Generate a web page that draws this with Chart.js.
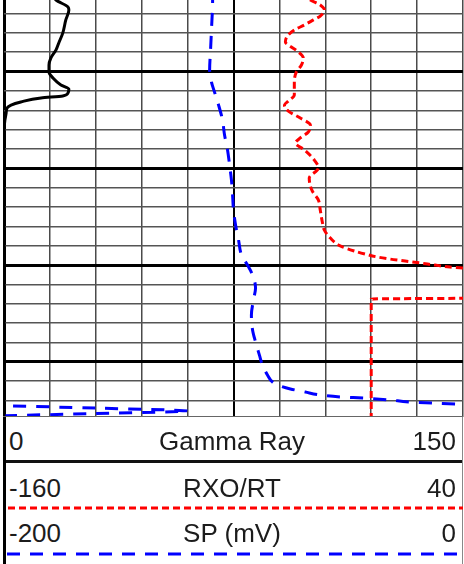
<!DOCTYPE html>
<html>
<head>
<meta charset="utf-8">
<title>Log tracks</title>
<script src="https://cdn.jsdelivr.net/npm/chart.js@4.4.1/dist/chart.umd.min.js"></script>
<style>
  html, body { margin: 0; padding: 0; background: #fff; }
  body { width: 464px; height: 564px; position: relative; overflow: hidden;
         font-family: "Liberation Sans", Arial, sans-serif; }
  #plot { position: absolute; left: 0; top: 0; width: 464px; height: 417px; }
  .bar { position: absolute; }
  #leftBar { left: 3px; top: 417px; width: 3px; height: 147px; background: #000; }
  #rightBar { left: 462px; top: 417px; width: 1px; height: 147px; background: #888; }
  #topLine { left: 3px; top: 416px; width: 460px; height: 1px; background: #666; }
  #grBottom { left: 3px; top: 460px; width: 460px; height: 3px; background: #111; }
  .lab { position: absolute; font-size: 26px; line-height: 26px; color: #1c1c1c; white-space: nowrap; }
  .lab.min { left: 9px; }
  .lab.name { left: 0; width: 464px; text-align: center; }
  .lab.max { right: 8px; text-align: right; }
  .row0 { top: 428px; }
  .row1 { top: 475px; }
  .row2 { top: 520px; }
  #keys { position: absolute; left: 0; top: 0; }
</style>
</head>
<body>
<div id="plot"><canvas id="logChart"></canvas></div>
<div id="topLine" class="bar"></div>
<div id="grBottom" class="bar"></div>
<div id="leftBar" class="bar"></div>
<div id="rightBar" class="bar"></div>
<div id="labels"></div>
<svg id="keys" width="464" height="564">
  <line x1="8" y1="508" x2="463" y2="508" stroke="#ff0000" stroke-width="3" stroke-dasharray="7 4"/>
  <line x1="7" y1="554" x2="461" y2="554" stroke="#0000ff" stroke-width="3" stroke-dasharray="13 10"/>
</svg>
<script>
// track headers
const trackNames = ['Gamma Ray', 'RXO/RT', 'SP (mV)'];
const trackMin = [0, -160, -200];
const trackMax = [150, 40, 0];

// depth window (ft) and grid lines
const depthTop = 4996.3;
const depthBottom = 5017.85;
const depthTicks = [4997, 4998, 4999, 5000, 5001, 5002, 5003, 5004, 5005, 5006, 5007,
  5008, 5009, 5010, 5011, 5012, 5013, 5014, 5015, 5016, 5017];

// Gamma Ray
const grDepth = [4995.8, 4996.3, 4996.66, 4996.82, 4997.33, 4998.01, 4998.52, 4998.88, 4999.3,
  4999.66, 5000.02, 5000.33, 5000.69, 5000.9, 5001.11, 5001.26, 5001.36, 5001.57, 5001.73,
  5001.88, 5002.14, 5002.5, 5003.02, 5018.0];
const grValue = [15, 17, 20.9, 21.2, 20.2, 19.2, 17.9, 17.0, 15.3, 14.7, 14.7, 16.0, 18.6, 21.2,
  20.9, 19.2, 12.1, 5.5, 2.3, 1.0, 0.7, 0.3, 0, 0];

// RXO/RT
const rxoDepth = [4995.89, 4996.30, 4996.56, 4996.82, 4997.13, 4997.33, 4997.59, 4997.85, 4998.16,
  4998.47, 4998.73, 4998.94, 4999.30, 4999.66, 5000.02, 5000.54, 5001.21, 5001.52, 5001.73,
  5002.04, 5002.40, 5002.76, 5003.12, 5003.43, 5003.69, 5004.05, 5004.57, 5004.98, 5005.50,
  5006.17, 5006.64, 5007.15, 5007.77, 5008.19, 5008.60, 5009.01, 5009.27, 5009.43, 5009.58,
  5009.69, 5009.79, 5009.89, 5010.00, 5010.10, 5010.15, 5010.36, 5011.03, 5011.70, 5011.75, 5018.0];
const rxoValue = [-30, -26.5, -22.2, -20.4, -22.2, -25.2, -29.1, -33.5, -36.5, -37.4, -34.8, -32.2,
  -29.6, -30.4, -32.6, -33.5, -33.5, -36.1, -37.8, -36.1, -30.9, -26.5, -27.4, -30.9, -33.0,
  -29.1, -24.8, -23.0, -27.0, -25.7, -23.0, -22.2, -21.3, -20.4, -17.8, -13.5, -7.4, -2.6,
  2.6, 8.3, 14.8, 21.3, 27.8, 34.3, 39.6, 47, 52, 55, 0, 0];

// SP (mV)
const spDepth = [4995.78, 4996.30, 4997.85, 4998.88, 4999.92, 5000.54, 5001.05, 5001.73, 5002.50,
  5003.28, 5004.05, 5004.83, 5005.60, 5006.38, 5007.15, 5007.93, 5008.70, 5009.48, 5010.00,
  5010.51, 5011.18, 5011.80, 5012.58, 5013.35, 5013.97, 5014.65, 5015.16, 5015.68, 5016.04,
  5016.25, 5016.40, 5016.56, 5016.71, 5016.82, 5016.87, 5016.97, 5017.08, 5017.13, 5017.18,
  5017.23, 5017.24, 5017.25, 5017.39, 5017.54, 5017.67, 5017.80];
const spValue = [-109.1, -109.1, -109.6, -110.0, -110.4, -109.6, -108.3, -106.5, -104.8, -103.9,
  -102.6, -101.7, -100.9, -100.4, -100.0, -99.1, -97.8, -96.5, -93.9, -91.7, -90.4, -91.3,
  -92.2, -91.7, -90.4, -88.7, -87.4, -85.2, -83.0, -79.6, -75.2, -68.7, -62.2, -52.6, -43.5,
  -31.7, -23.0, -13.0, -2.6, 5.2, null, -206, -160, -120, -160, -206];

const toPoints = (depths, values) => depths.map((d, i) => ({ x: values[i], y: d }));

// header labels
const labels = document.getElementById('labels');
trackNames.forEach((name, i) => {
  [['min', trackMin[i]], ['name', name], ['max', trackMax[i]]].forEach(([cls, txt]) => {
    const el = document.createElement('div');
    el.className = 'lab ' + cls + ' row' + i;
    el.textContent = txt;
    labels.appendChild(el);
  });
});

const hidden = (i) => ({
  type: 'linear', display: false, min: trackMin[i], max: trackMax[i]
});

new Chart(document.getElementById('logChart'), {
  type: 'line',
  data: {
    datasets: [
      {
        label: trackNames[0],
        data: toPoints(grDepth, grValue),
        xAxisID: 'x',
        borderColor: '#000',
        borderWidth: 3
      },
      {
        label: trackNames[1],
        data: toPoints(rxoDepth, rxoValue),
        xAxisID: 'xRxo',
        borderColor: '#ff0000',
        borderWidth: 3,
        borderDash: [7, 4]
      },
      {
        label: trackNames[2],
        data: toPoints(spDepth, spValue),
        xAxisID: 'xSp',
        borderColor: '#0000ff',
        borderWidth: 3,
        borderDash: [13, 10]
      }
    ]
  },
  options: {
    responsive: true,
    maintainAspectRatio: false,
    animation: false,
    indexAxis: 'y',
    layout: { padding: { left: 4, right: 1, top: 0, bottom: 0 } },
    elements: {
      point: { radius: 0 },
      line: { cubicInterpolationMode: 'monotone', capBezierPoints: false, borderCapStyle: 'butt', fill: false }
    },
    plugins: { legend: { display: false }, tooltip: { enabled: false } },
    scales: {
      x: {
        type: 'linear',
        position: 'bottom',
        min: trackMin[0],
        max: trackMax[0],
        ticks: { display: false, stepSize: 15 },
        border: { display: false },
        grid: {
          drawTicks: false,
          color: (ctx) => (ctx.index === 0 || ctx.index === 5) ? '#000' : '#4a4a4a',
          lineWidth: (ctx) => ctx.index === 0 ? 3 : (ctx.index === 5 ? 2 : 1.5)
        }
      },
      xRxo: hidden(1),
      xSp: hidden(2),
      y: {
        type: 'linear',
        reverse: true,
        min: depthTop,
        max: depthBottom,
        afterBuildTicks: (scale) => { scale.ticks = depthTicks.map(v => ({ value: v })); },
        ticks: { display: false },
        border: { display: false },
        grid: {
          drawTicks: false,
          color: (ctx) => ctx.tick && ctx.tick.value % 5 === 0 ? '#000' : '#555',
          lineWidth: (ctx) => ctx.tick && ctx.tick.value % 5 === 0 ? 3 : 1.5
        }
      }
    }
  }
});
</script>
</body>
</html>
